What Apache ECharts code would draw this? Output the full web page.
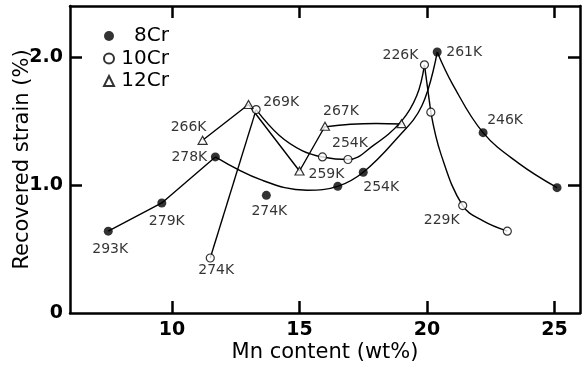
<!DOCTYPE html>
<html>
<head>
<meta charset="utf-8">
<script src="https://cdn.jsdelivr.net/npm/echarts@6/dist/echarts.min.js"></script>
<style>
  html, body { margin: 0; padding: 0; background: #fff; }
  #chart { width: 582px; height: 368px; }
</style>
</head>
<body>
<div id="chart"></div>
<script>
// Recovered shape-memory strain vs. Mn content for three Cr levels,
// each point annotated with its test temperature.

const seriesNames = ['8Cr', '10Cr', '12Cr'];

// 8Cr alloys
const cr8Mn     = [7.5, 9.6, 11.7, 13.7, 16.5, 17.5, 20.4, 22.2, 25.1];
const cr8Strain = [0.64, 0.86, 1.22, 0.92, 0.99, 1.10, 2.04, 1.41, 0.98];
const cr8Temp   = ['293K', '279K', '278K', '274K', '', '254K', '261K', '246K', ''];

// 10Cr alloys
const cr10Mn     = [11.5, 13.3, 15.9, 16.9, 19.9, 20.15, 21.4, 23.15];
const cr10Strain = [0.43, 1.59, 1.22, 1.20, 1.94, 1.57, 0.84, 0.64];
const cr10Temp   = ['274K', '269K', '', '254K', '226K', '', '229K', ''];

// 12Cr alloys
const cr12Mn     = [11.2, 13.0, 15.0, 16.0, 19.0];
const cr12Strain = [1.35, 1.63, 1.11, 1.46, 1.48];
const cr12Temp   = ['266K', '', '259K', '267K', ''];

// Hand-drawn trend curves through each family, [Mn, strain]
const cr8Trends = [
  { smooth: false, pts: [[7.5, 0.64], [9.6, 0.86], [11.7, 1.22]] },
  { smooth: true,  pts: [[11.7, 1.22], [13.5, 1.04], [15.3, 0.96], [16.5, 0.99], [17.5, 1.10],
                         [18.8, 1.36], [19.8, 1.62], [20.4, 2.04]] },
  { smooth: true,  pts: [[20.4, 2.04], [21.0, 1.79], [22.2, 1.41], [23.6, 1.17], [25.1, 0.98]] }
];
const cr10Trends = [
  { smooth: false, pts: [[11.5, 0.43], [13.3, 1.59]] },
  { smooth: true,  pts: [[13.3, 1.59], [14.2, 1.39], [15.1, 1.27], [15.9, 1.22], [16.9, 1.20],
                         [17.9, 1.31], [19.0, 1.50], [19.6, 1.70], [19.9, 1.94]] },
  { smooth: false, pts: [[19.9, 1.94], [20.15, 1.57]] },
  { smooth: true,  pts: [[20.15, 1.57], [20.55, 1.24], [21.4, 0.84], [22.2, 0.72], [23.15, 0.64]] }
];
const cr12Trends = [
  { smooth: false, pts: [[11.2, 1.35], [13.0, 1.63], [15.0, 1.11], [16.0, 1.46]] },
  { smooth: true,  pts: [[16.0, 1.455], [17.0, 1.475], [18.0, 1.482], [19.0, 1.478]] }
];

// Axis ticks
const xTicks = [10, 15, 20, 25];
const yTicks = [0, 1, 2];

// Label placement (pixel shift of each temperature label from its point)
const cr8Shift  = [[2, 18], [5, 18], [-26, 0], [3, 16], null, [18, 15], [27, 0], [22, -12], null];
const cr10Shift = [[6, 12], [25, -7], null, [2, -16], [-24, -9], null, [-21, 15], null];
const cr12Shift = [[-14, -13], null, [27, 3], [16, -15], null];

const FONT = 'DejaVu Sans';
const INK = '#000';

function points(mn, strain, temp, shift) {
  return mn.map((x, i) => ({
    value: [x, strain[i]],
    label: temp[i]
      ? { show: true, formatter: temp[i], offset: shift[i] }
      : { show: false }
  }));
}

function trendSeries(trends) {
  return trends.map(t => ({
    type: 'line',
    data: t.pts,
    smooth: t.smooth ? 0.4 : false,
    showSymbol: false,
    symbol: 'none',
    silent: true,
    z: 2,
    lineStyle: { color: INK, width: 1.4 }
  }));
}

const markLabel = {
  position: 'inside',
  color: INK,
  fontFamily: FONT,
  fontSize: 14
};

const chart = echarts.init(document.getElementById('chart'), null, { renderer: 'canvas' });

const frameAxis = {
  type: 'value',
  axisLine: { show: true, onZero: false, lineStyle: { color: INK, width: 2.5 } },
  axisTick: { show: true, inside: true, length: 12, lineStyle: { color: INK, width: 2.5 } },
  splitLine: { show: false }
};

chart.setOption({
  animation: false,
  backgroundColor: '#fff',
  grid: { left: 70, right: 2, top: 6, bottom: 55, containLabel: false, outerBoundsMode: 'none' },
  legend: {
    data: seriesNames,
    orient: 'vertical',
    left: 103,
    top: 26,
    padding: 0,
    itemWidth: 10,
    itemHeight: 10,
    itemGap: 2.5,
    selectedMode: false,
    formatter: n => '{t|' + n + '}',
    itemStyle: { borderColor: INK },
    textStyle: {
      rich: {
        t: { width: 50, align: 'right', fontFamily: FONT, fontSize: 20, color: INK, lineHeight: 22.5 }
      }
    }
  },
  xAxis: [
    Object.assign({}, frameAxis, {
      min: 6, max: 26, position: 'bottom',
      axisTick: Object.assign({}, frameAxis.axisTick, { customValues: xTicks }),
      axisLabel: {
        customValues: xTicks, margin: 8, color: INK,
        fontFamily: FONT, fontSize: 19, fontWeight: 'bold'
      },
      name: 'Mn content (wt%)', nameLocation: 'middle', nameGap: 29, nameMoveOverlap: false,
      nameTextStyle: { fontFamily: FONT, fontSize: 21, color: INK }
    }),
    Object.assign({}, frameAxis, {
      min: 6, max: 26, position: 'top',
      axisTick: Object.assign({}, frameAxis.axisTick, { customValues: xTicks }),
      axisLabel: { show: false }
    })
  ],
  yAxis: [
    Object.assign({}, frameAxis, {
      min: 0, max: 2.4, position: 'left',
      axisTick: Object.assign({}, frameAxis.axisTick, { customValues: [1, 2] }),
      axisLabel: {
        customValues: yTicks, margin: 7, color: INK,
        fontFamily: FONT, fontSize: 19, fontWeight: 'bold',
        formatter: v => (v === 0 ? '0' : v.toFixed(1))
      },
      name: 'Recovered strain (%)', nameLocation: 'middle', nameGap: 37, nameMoveOverlap: false,
      nameTextStyle: { fontFamily: FONT, fontSize: 21, color: INK }
    }),
    Object.assign({}, frameAxis, {
      min: 0, max: 2.4, position: 'right',
      axisTick: Object.assign({}, frameAxis.axisTick, { customValues: [1, 2] }),
      axisLabel: { show: false }
    })
  ],
  series: [
    ...trendSeries(cr8Trends),
    ...trendSeries(cr10Trends),
    ...trendSeries(cr12Trends),
    {
      name: '8Cr', type: 'scatter', z: 4,
      symbol: 'circle', symbolSize: 9,
      itemStyle: { color: INK },
      label: markLabel,
      data: points(cr8Mn, cr8Strain, cr8Temp, cr8Shift)
    },
    {
      name: '10Cr', type: 'scatter', z: 4,
      symbol: 'circle', symbolSize: 8,
      itemStyle: { color: '#fff', borderColor: INK, borderWidth: 1.2 },
      label: markLabel,
      data: points(cr10Mn, cr10Strain, cr10Temp, cr10Shift)
    },
    {
      name: '12Cr', type: 'scatter', z: 4,
      symbol: 'triangle', symbolSize: [9, 8],
      itemStyle: { color: '#fff', borderColor: INK, borderWidth: 1.2 },
      label: markLabel,
      data: points(cr12Mn, cr12Strain, cr12Temp, cr12Shift)
    }
  ]
});
</script>
</body>
</html>
